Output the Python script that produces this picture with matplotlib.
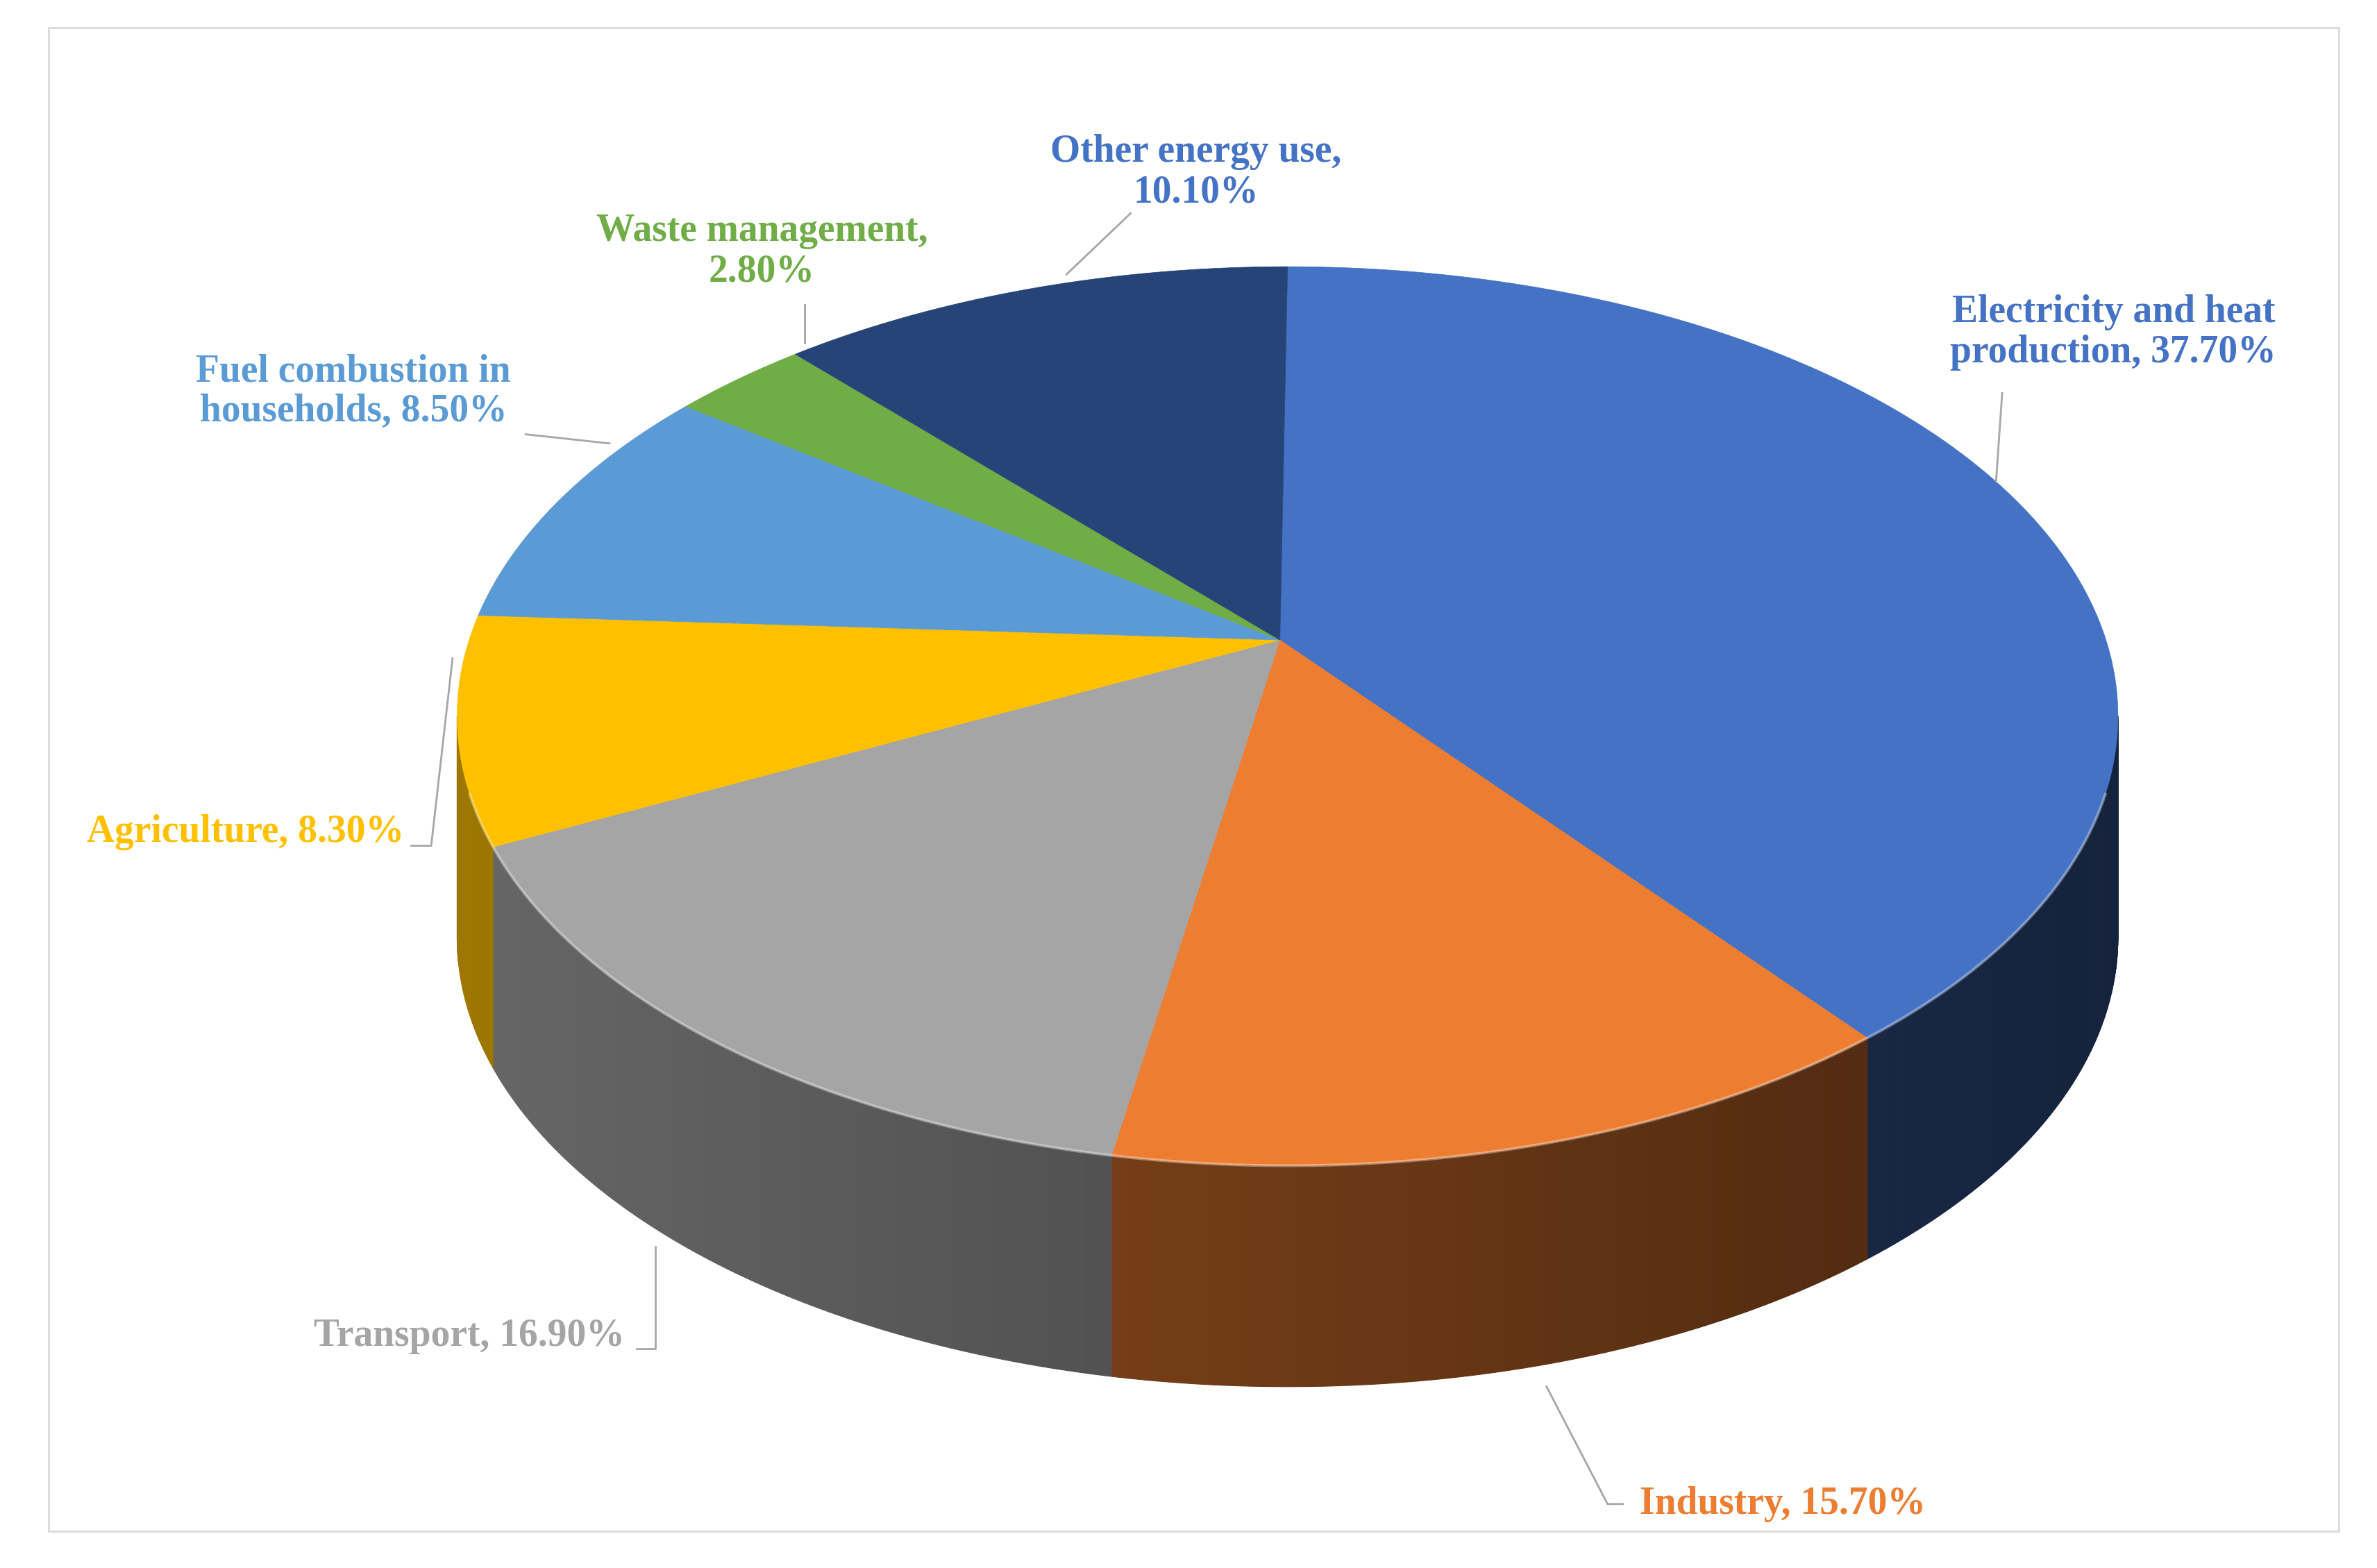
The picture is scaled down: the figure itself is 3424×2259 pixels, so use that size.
import numpy as np
import matplotlib
matplotlib.use("Agg")
import matplotlib.pyplot as plt
from matplotlib.patches import Polygon, Rectangle
from matplotlib.colors import to_rgb

categories = ["Electricity and heat\nproduction, 37.70%", "Industry, 15.70%", "Transport, 16.90%",
              "Agriculture, 8.30%", "Fuel combustion in\nhouseholds, 8.50%", "Waste management,\n2.80%",
              "Other energy use,\n10.10%"]
values = [37.7, 15.7, 16.9, 8.3, 8.5, 2.8, 10.1]
colors = ["#4472C4", "#ED7D31", "#A5A5A5", "#FFC000", "#5B9BD5", "#70AD47", "#264478"]
label_colors = ["#4472C4", "#ED7D31", "#A5A5A5", "#FFC000", "#5B9BD5", "#70AD47", "#4472C4"]

W, H = 1560, 1029
fig = plt.figure(figsize=(34.24, 22.59), dpi=100)
ax = fig.add_axes([0, 0, 1, 1])
ax.set_xlim(0, W); ax.set_ylim(H, 0); ax.axis("off")
ax.add_patch(Rectangle((32, 18), 1503, 987, fill=False, ec="#D9D9D9", lw=2))

cx, cy, rx, ry, depth = 845, 470, 545, 295, 145
apx, apy = 840, 420

def pt(phi):
    r = np.radians(phi)
    return cx + rx*np.sin(r), cy - ry*np.cos(r)

cum = np.concatenate([[0], np.cumsum(values)]) / sum(values) * 360

def shade(c, x):
    t = (x - (cx - rx)) / (2*rx)
    f = 0.62 - 0.32*t
    return tuple(np.clip(np.array(to_rgb(c))*f, 0, 1))

# side walls
for i, c in enumerate(colors):
    a0, a1 = max(cum[i], 90), min(cum[i+1], 270)
    if a1 <= a0: continue
    ph = np.linspace(a0, a1, max(3, int((a1-a0)*2)))
    for p0, p1 in zip(ph[:-1], ph[1:]):
        x0, y0 = pt(p0); x1, y1 = pt(p1)
        ax.add_patch(Polygon([(x0, y0), (x1, y1), (x1, y1+depth), (x0, y0+depth)],
                             closed=True, fc=shade(c, (x0+x1)/2), ec=shade(c, (x0+x1)/2), lw=0.8, zorder=2))
# top
for i, c in enumerate(colors):
    ph = np.linspace(cum[i], cum[i+1], 200)
    pts = [(apx, apy)] + [pt(p) for p in ph]
    ax.add_patch(Polygon(pts, closed=True, fc=c, ec=c, lw=0.5, zorder=3))
# highlight along front edge
ph = np.linspace(100, 260, 300)
xs, ys = zip(*[pt(p) for p in ph])
ax.plot(xs, ys, color="white", alpha=0.35, lw=3, zorder=4)

font = dict(family="Liberation Serif", weight="bold", fontsize=40)
labels_pos = [(1387, 218, "center"), (1170, 987, "center"), (410, 877, "right"),
              (265, 546, "right"), (232, 257, "center"), (500, 165, "center"), (785, 113, "center")]
leaders = [[(1310, 316), (1314, 258)],
           [(1015, 910), (1055, 987), (1065, 987)],
           [(430, 818), (430, 885), (418, 885)],
           [(297, 432), (283, 555), (270, 555)],
           [(345, 285), (400, 291)],
           [(528, 200), (528, 225)],
           [(742, 140), (700, 180)]]
for lab, col, (x, y, ha), ld in zip(categories, label_colors, labels_pos, leaders):
    ax.text(x, y, lab, color=col, ha=ha, va="center", linespacing=1.15, zorder=6, **font)
    lx, ly = zip(*ld)
    ax.plot(lx, ly, color="#A6A6A6", lw=2, zorder=5)

fig.savefig("out.png", dpi=100, facecolor="white")
